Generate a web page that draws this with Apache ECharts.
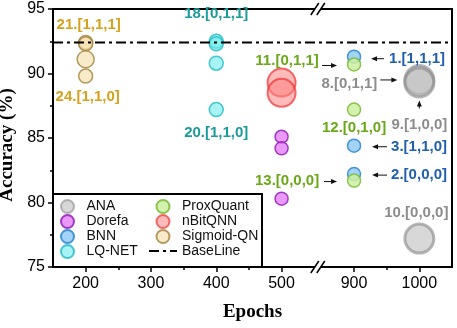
<!DOCTYPE html>
<html>
<head>
<meta charset="utf-8">
<script src="https://cdn.jsdelivr.net/npm/echarts@6.0.0/dist/echarts.min.js"></script>
<style>
  html, body { margin: 0; padding: 0; background: #fff; }
  #chart { width: 457px; height: 328px; }
</style>
</head>
<body>
<div id="chart"></div>
<script>
// axis ticks
const xTicks = [200, 300, 400, 500, 900, 1000];
const xMinorTicks = [250, 350, 450, 950];
const xRange = [150, 1050];

// each method: epochs, accuracy, point tags
const anaEpochs = [1000, 1000, 1000];
const anaAcc = [89.5, 89.3, 77.2];
const anaTags = ['8.[0,1,1]', '9.[1,0,0]', '10.[0,0,0]'];

const dorefaEpochs = [500, 500, 500];
const dorefaAcc = [85.1, 84.2, 80.3];

const bnnEpochs = [900, 900, 900];
const bnnAcc = [91.3, 84.4, 82.2];
const bnnTags = ['1.[1,1,1]', '3.[1,1,0]', '2.[0,0,0]'];

const lqEpochs = [400, 400, 400, 400];
const lqAcc = [92.5, 92.3, 90.8, 87.2];
const lqTags = ['18.[0,1,1]', '', '', '20.[1,1,0]'];

const proxEpochs = [900, 900, 900];
const proxAcc = [90.7, 87.2, 81.7];
const proxTags = ['11.[0,1,1]', '12.[0,1,0]', '13.[0,0,0]'];

const nbitEpochs = [500, 500];
const nbitAcc = [89.3, 88.5];

const sigmoidEpochs = [200, 200, 200, 200];
const sigmoidAcc = [92.4, 92.3, 91.1, 89.8];
const sigmoidTags = ['21.[1,1,1]', '', '', '24.[1,1,0]'];

const baselineAcc = 92.4;

const legendLeftCol = ['ANA', 'Dorefa', 'BNN', 'LQ-NET'];
const legendRightCol = ['ProxQuant', 'nBitQNN', 'Sigmoid-QN', 'BaseLine'];

// where each tag sits relative to its point (px)
const tagOffset = {
  '21.[1,1,1]': [3, -18], '24.[1,1,0]': [2, 21],
  '18.[0,1,1]': [0, -27], '20.[1,1,0]': [0, 23],
  '11.[0,1,1]': [-67, -4], '12.[0,1,0]': [0, 18], '13.[0,0,0]': [-67, 0],
  '1.[1,1,1]': [63, 2], '3.[1,1,0]': [65, 1], '2.[0,0,0]': [65, 1],
  '8.[0,1,1]': [-70, 4], '9.[1,0,0]': [0, 42], '10.[0,0,0]': [-3, -26]
};
// arrows: from -> to, relative to the point (px)
const tagArrow = {
  '11.[0,1,1]': [-32, 1, -17, 1], '13.[0,0,0]': [-30, 1, -17, 1],
  '1.[1,1,1]': [30, 2, 17, 2], '3.[1,1,0]': [33, 1, 18, 1], '2.[0,0,0]': [33, 1, 18, 1],
  '8.[0,1,1]': [-39, 0, -22, 0], '9.[1,0,0]': [0, 26, 0, 18]
};

const sans = 'Liberation Sans, Arial, sans-serif';
const serif = 'Liberation Serif, Times New Roman, serif';

function pointSeries(name, xs, ys, tags, fill, stroke, tagColor, size, bw) {
  return {
    name: name,
    type: 'scatter',
    symbolSize: size,
    itemStyle: { color: fill, borderColor: stroke, borderWidth: bw || 1.5, opacity: 1 },
    label: { color: tagColor, fontSize: 15, fontWeight: 'bold', fontFamily: sans },
    data: xs.map(function (x, i) {
      const tag = tags ? tags[i] : '';
      const item = { value: [x, ys[i]], tag: tag };
      if (tag) {
        item.label = { show: true, position: 'inside', offset: tagOffset[tag], formatter: tag };
      }
      return item;
    })
  };
}

const series = [
  pointSeries('ANA', anaEpochs, anaAcc, anaTags, 'rgba(190,190,190,0.6)', 'rgba(135,135,135,0.6)', '#8c8c8c', 29, 3),
  pointSeries('Dorefa', dorefaEpochs, dorefaAcc, null, 'rgba(225,110,245,0.7)', 'rgba(145,30,185,0.85)', '#000', 13),
  pointSeries('BNN', bnnEpochs, bnnAcc, bnnTags, 'rgba(140,200,245,0.8)', 'rgba(50,140,210,0.9)', '#1f5fae', 13),
  pointSeries('LQ-NET', lqEpochs, lqAcc, lqTags, 'rgba(110,235,235,0.6)', 'rgba(30,185,195,0.8)', '#1b9a9a', 14),
  pointSeries('ProxQuant', proxEpochs, proxAcc, proxTags, 'rgba(205,238,160,0.85)', 'rgba(125,190,60,0.9)', '#6aa818', 13),
  pointSeries('nBitQNN', nbitEpochs, nbitAcc, null, 'rgba(255,130,130,0.55)', 'rgba(240,50,50,0.7)', '#000', 28, 2),
  pointSeries('Sigmoid-QN', sigmoidEpochs, sigmoidAcc, sigmoidTags, 'rgba(245,222,165,0.6)', 'rgba(160,130,60,0.8)', '#d6a11c', 14),
  {
    name: 'BaseLine',
    type: 'line',
    symbol: 'none',
    silent: true,
    data: xRange.map(function (x) { return [x, baselineAcc]; }),
    lineStyle: { color: '#000', width: 2, type: [10, 4, 3, 4] },
    itemStyle: { color: 'rgba(0,0,0,0)', borderWidth: 0 }
  }
];
// Sigmoid middle point is drawn a bit larger
series[6].symbolSize = function (v, p) { return p.dataIndex === 2 ? 17 : 14; };

function xBase() {
  return {
    type: 'value',
    min: xRange[0],
    max: xRange[1],
    breaks: [{ start: 550, end: 850, gap: '1.8%' }],
    breakArea: { show: false },
    splitLine: { show: false }
  };
}

function legendCol(left, names) {
  return {
    orient: 'vertical',
    left: left,
    top: 199,
    padding: 0,
    z: 10,
    itemWidth: 28,
    itemHeight: 13,
    itemGap: 0,
    textStyle: { fontSize: 14, fontFamily: sans, color: '#111' },
    data: names.map(function (n) {
      return n === 'BaseLine' ? { name: n, itemStyle: { opacity: 0 } } : n;
    })
  };
}

const chart = echarts.init(document.getElementById('chart'));
chart.setOption({
  animation: false,
  backgroundColor: '#fff',
  grid: {
    left: 53, right: 5, top: 9, bottom: 61, outerBoundsMode: 'none', containLabel: false,
    show: true, borderColor: '#000', borderWidth: 2
  },
  legend: [legendCol(60, legendLeftCol), legendCol(148, legendRightCol)],
  xAxis: [
    Object.assign(xBase(), {
      position: 'bottom',
      axisLine: { lineStyle: { color: '#000', width: 2 } },
      axisTick: { customValues: xTicks, length: 5, lineStyle: { color: '#000', width: 1.5 } },
      axisLabel: {
        customValues: xTicks, fontSize: 16, margin: 9, color: '#000', fontFamily: sans,
        formatter: function (v) { return String(v); }
      },
      name: 'Epochs',
      nameLocation: 'middle',
      nameGap: 36,
      nameTextStyle: { fontFamily: serif, fontWeight: 'bold', fontSize: 19, color: '#000' }
    }),
    Object.assign(xBase(), {
      position: 'bottom',
      axisLine: { show: false },
      axisTick: { customValues: xMinorTicks, length: 3, lineStyle: { color: '#000', width: 1.5 } },
      axisLabel: { show: false }
    })
  ],
  yAxis: {
    type: 'value',
    min: 75,
    max: 95,
    interval: 5,
    axisLine: { show: true, lineStyle: { color: '#000', width: 2 } },
    axisTick: { show: true, length: 5, lineStyle: { color: '#000', width: 1.5 } },
    minorTick: { show: true, splitNumber: 2, length: 3, lineStyle: { color: '#000', width: 1.5 } },
    axisLabel: { fontSize: 16, color: '#000', margin: 8, fontFamily: sans },
    splitLine: { show: false },
    name: 'Accuracy (%)',
    nameLocation: 'middle',
    nameGap: 28,
    nameRotate: 90,
    nameTextStyle: { fontFamily: serif, fontWeight: 'bold', fontSize: 19, color: '#000', padding: [0, 14, 0, 0] }
  },
  series: series
});

// legend frame, arrows next to the tags, and the // marks of the broken axis
const graphics = [];
const gx0 = chart.convertToPixel({ xAxisIndex: 0 }, xRange[0]);
const gy0 = chart.convertToPixel({ yAxisIndex: 0 }, 75);
graphics.push({
  type: 'rect', z: 5,
  shape: { x: gx0, y: 194, width: 209, height: gy0 - 194 },
  style: { fill: '#fff', stroke: '#000', lineWidth: 2 }
});

series.forEach(function (s) {
  if (s.type !== 'scatter') return;
  s.data.forEach(function (d) {
    const a = tagArrow[d.tag];
    if (!a) return;
    const p = chart.convertToPixel({ xAxisIndex: 0, yAxisIndex: 0 }, d.value);
    const x1 = p[0] + a[0], y1 = p[1] + a[1], x2 = p[0] + a[2], y2 = p[1] + a[3];
    const len = Math.hypot(x2 - x1, y2 - y1);
    const ux = (x2 - x1) / len, uy = (y2 - y1) / len;
    graphics.push({
      type: 'line', z: 50,
      shape: { x1: x1, y1: y1, x2: x2 - ux * 4, y2: y2 - uy * 4 },
      style: { stroke: '#111', lineWidth: 1 }
    });
    graphics.push({
      type: 'polygon', z: 50,
      shape: { points: [[x2, y2], [x2 - ux * 6 - uy * 2.5, y2 - uy * 6 + ux * 2.5], [x2 - ux * 6 + uy * 2.5, y2 - uy * 6 - ux * 2.5]] },
      style: { fill: '#111' }
    });
  });
});

const bx = (chart.convertToPixel({ xAxisIndex: 0 }, 550) + chart.convertToPixel({ xAxisIndex: 0 }, 850)) / 2;
[95, 75].forEach(function (v) {
  const y = chart.convertToPixel({ yAxisIndex: 0 }, v);
  graphics.push({
    type: 'polygon', z: 60,
    shape: { points: [[bx - 7, y + 6], [bx + 1, y - 6], [bx + 7, y - 6], [bx - 1, y + 6]] },
    style: { fill: '#fff' }
  });
  [-3, 3].forEach(function (s) {
    graphics.push({
      type: 'line', z: 61,
      shape: { x1: bx + s - 4, y1: y + 6, x2: bx + s + 4, y2: y - 6 },
      style: { stroke: '#000', lineWidth: 1.5 }
    });
  });
});
chart.setOption({ graphic: graphics });
</script>
</body>
</html>
